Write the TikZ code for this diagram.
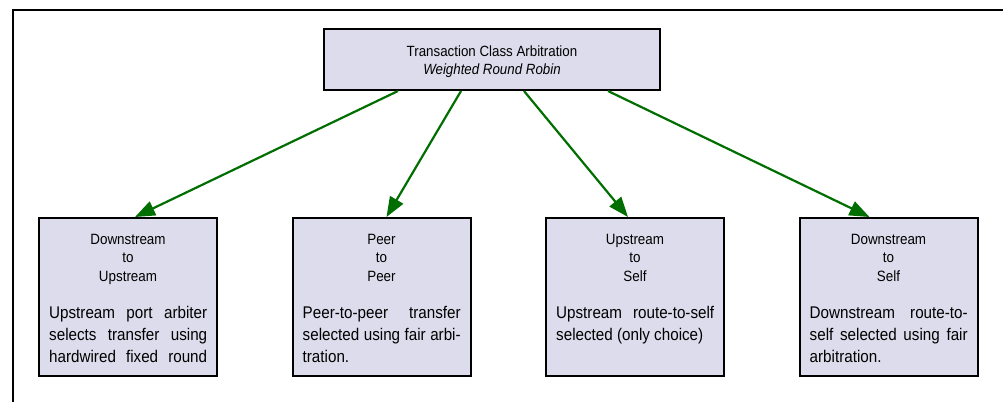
\documentclass[tikz,border=0pt]{standalone}
\usepackage{fontspec}
\setmainfont{Liberation Sans}[FakeStretch=0.9]
\usetikzlibrary{arrows.meta,calc}
\definecolor{boxfill}{RGB}{220,220,236}
\definecolor{arrowgreen}{RGB}{0,110,0}
\newcommand{\jline}[1]{\hbox to 158bp{#1}}
\newcommand{\lline}[1]{\hbox to 158bp{#1\hfil}}
\newcommand{\ctrline}[1]{\hbox to 170bp{\hfil#1\hfil}}
\begin{document}
\begin{tikzpicture}[x=1bp,y=-1bp,
  box/.style={draw=black, line width=2bp, fill=boxfill, inner sep=0pt},
  leaf/.style={box, minimum width=178bp, minimum height=158bp},
  headtxt/.style={inner sep=0pt, anchor=base, font=\fontsize{14.9bp}{18.8bp}\selectfont},
  titletxt/.style={inner sep=0pt, anchor=base, font=\fontsize{14.8bp}{18bp}\selectfont},
  bodytxt/.style={inner sep=0pt, anchor=base west, font=\fontsize{16.9bp}{22.3bp}\selectfont},
  conn/.style={draw=arrowgreen, line width=2.2bp, -{Triangle[length=20bp,width=15bp]}},
  frameline/.style={draw=black, line width=2bp}
]
\useasboundingbox (0,0) rectangle (1003,402);
% frame
\coordinate (fr1) at (1003,10);
\coordinate (fr2) at (13,10);
\coordinate (fr3) at (13,402);
\draw[frameline] (fr1) -- (fr2) -- (fr3);

% top box
\node[box, minimum width=336bp, minimum height=61bp] (top) at (492,59.5) {};
\node[titletxt] (t1) at (492,56) {Transaction Class Arbitration};
\node[titletxt, font=\fontsize{14.8bp}{18bp}\selectfont\itshape] (t2) at (492,74) {Weighted Round Robin};

% leaf boxes
\node[leaf] (b1) at (128,297) {};
\node[leaf] (b2) at (381.5,297) {};
\node[leaf] (b3) at (635,297) {};
\node[leaf] (b4) at (888.5,297) {};

% headings
\node[headtxt] (h1) at (128,244) {\vtop{\ctrline{Downstream}\ctrline{to}\ctrline{Upstream}}};
\node[headtxt] (h2) at (381.5,244) {\vtop{\ctrline{Peer}\ctrline{to}\ctrline{Peer}}};
\node[headtxt] (h3) at (635,244) {\vtop{\ctrline{Upstream}\ctrline{to}\ctrline{Self}}};
\node[headtxt] (h4) at (888.5,244) {\vtop{\ctrline{Downstream}\ctrline{to}\ctrline{Self}}};

% body texts
\node[bodytxt] (d1) at (49,318) {\vtop{%
  \jline{Upstream\hfill port\hfill arbiter}%
  \jline{selects\hfill transfer\hfill using}%
  \jline{hardwired\hfill fixed\hfill round}}};
\node[bodytxt] (d2) at (302.5,318) {\vtop{%
  \jline{Peer-to-peer\hfill transfer}%
  \jline{selected\hfill using\hfill fair\hfill arbi-}%
  \lline{tration.}}};
\node[bodytxt] (d3) at (556,318) {\vtop{%
  \jline{Upstream\hfill route-to-self}%
  \lline{selected (only choice)}}};
\node[bodytxt] (d4) at (809.5,318) {\vtop{%
  \jline{Downstream\hfill route-to-}%
  \jline{self\hfill selected\hfill using\hfill fair}%
  \lline{arbitration.}}};

% connectors
\draw[conn] ($(top.south west)+(75,0)$) -- ($(b1.north west)+(97,0)$);
\draw[conn] ($(top.south west)+(138,0)$) -- ($(b2.north west)+(95,0)$);
\draw[conn] ($(top.south west)+(201,0)$) -- ($(b3.north west)+(83,0)$);
\draw[conn] ($(top.south west)+(285,0)$) -- ($(b4.north west)+(71,0)$);
\end{tikzpicture}
\end{document}
